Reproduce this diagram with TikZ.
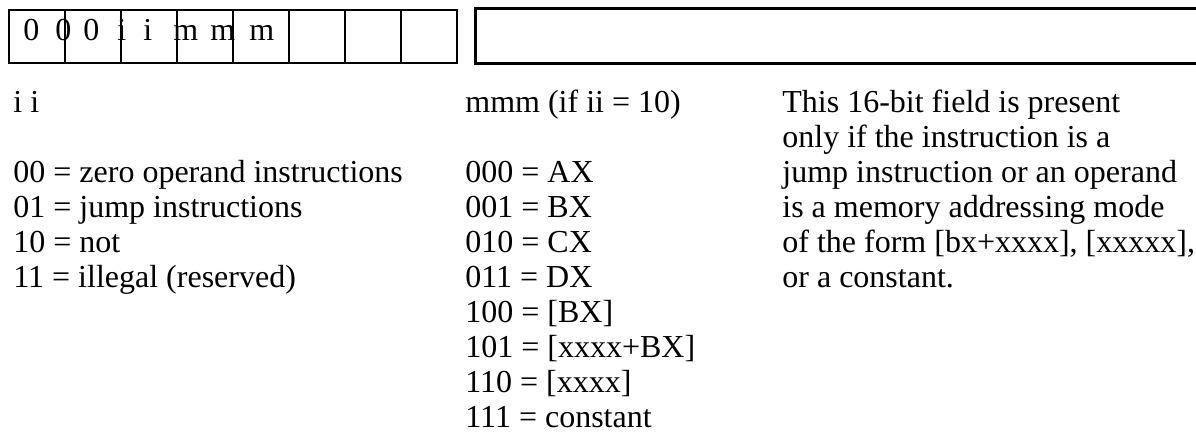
\documentclass[tikz,border=0pt]{standalone}
\usepackage{fontspec}
\setmainfont{Liberation Serif}
\usetikzlibrary{positioning}
\tikzset{
  bitcell/.style={rectangle,draw,line width=1.1pt,minimum width=28pt,
    minimum height=26.5pt,inner sep=0pt},
  dispbox/.style={rectangle,draw,line width=1.4pt,minimum width=380pt,
    minimum height=27.5pt,inner sep=0pt,anchor=north west},
  txt/.style={anchor=base west,inner sep=0pt,font=\fontsize{16pt}{17.5pt}\selectfont}
}

\begin{document}
\begin{tikzpicture}[x=0.5pt,y=-0.5pt]
  \useasboundingbox (0,0) rectangle (1196,432);
  \clip (0,0) rectangle (1196,432);

  % opcode byte
  \foreach \i in {0,...,7}
    \node[bitcell] (cell\i) at ({37+56*\i},36.5) {};
  \foreach \b/\x [count=\n] in {0/23,0/55,0/83,i/117,i/143,m/173,m/210,m/249}
    \node[txt] (bit\n) at (\x,41) {\b};

  % 16-bit field
  \node[dispbox] (disp) at (474,7) {};

  % ii column
  \node[txt] (iihead) at (13,113) {i i};
  \foreach \t [count=\k from 2] in {00 = zero operand instructions,
      01 = jump instructions, 10 = not, 11 = illegal (reserved)}
    \node[txt] (ii\k) at (13,{113+35*\k}) {\t};

  % mmm column
  \node[txt] (mmmhead) at (465,113) {mmm (if ii = 10)};
  \foreach \t [count=\k from 2] in {000 = AX, 001 = BX, 010 = CX, 011 = DX,
      {100 = [BX]}, {101 = [xxxx+BX]}, {110 = [xxxx]}, 111 = constant}
    \node[txt] (mmm\k) at (465,{113+35*\k}) {\t};

  % note on the 16-bit field
  \foreach \t [count=\k from 0] in {This 16-bit field is present,
      only if the instruction is a, jump instruction or an operand,
      is a memory addressing mode, {of the form [bx+xxxx], [xxxxx],},
      or a constant.}
    \node[txt] (note\k) at (782,{113+35*\k}) {\t};

\end{tikzpicture}
\end{document}
